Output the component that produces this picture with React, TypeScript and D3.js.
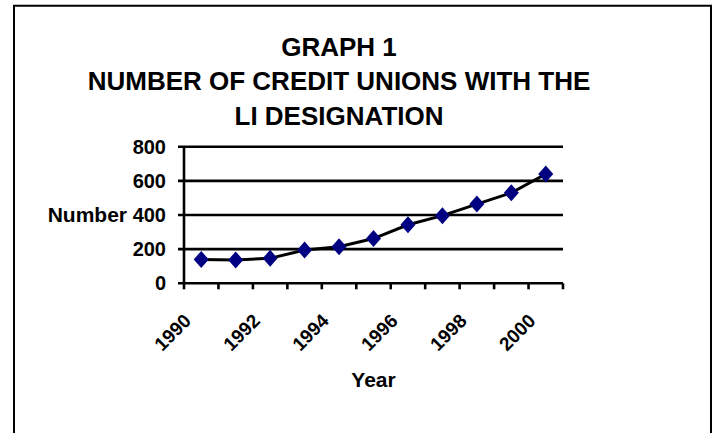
import React from "react";
import * as d3 from "d3";

const titleLines = ["GRAPH 1", "NUMBER OF CREDIT UNIONS WITH THE", "LI DESIGNATION"];
const years = ["1990", "1991", "1992", "1993", "1994", "1995", "1996", "1997", "1998", "1999", "2000"];
const values = [140, 137, 146, 195, 214, 262, 343, 396, 464, 530, 640];
const yTicks = [0, 200, 400, 600, 800];
const xTickLabels = ["1990", "1992", "1994", "1996", "1998", "2000"];
const yAxisTitle = "Number";
const xAxisTitle = "Year";

const W = 714;
const H = 433;
const FONT = "'Liberation Sans', Arial, sans-serif";

export default function App() {
  const x = d3.scaleBand<string>().domain(years).range([184, 563]).padding(0);
  const y = d3.scaleLinear().domain([0, 800]).range([283.3, 146.7]);
  const cx = (d: string) => (x(d) as number) + x.bandwidth() / 2;
  const line = d3
    .line<number>()
    .x((_, i) => cx(years[i]))
    .y((v) => y(v));
  const diamond = "M0,-8.5L7.5,0L0,8.5L-7.5,0Z";
  const [x0, x1] = x.range();
  const boundaries = d3.range(years.length + 1).map((i) => x0 + i * x.bandwidth());

  return (
    <svg
      width={W}
      height={H}
      style={{ position: "absolute", left: 0, top: 0, background: "#fff" }}
      fontFamily={FONT}
      fontWeight="bold"
    >
      <rect x={0} y={0} width={W} height={H} fill="#fff" />
      {/* frame */}
      <path d={`M14,${H}V5.8H711V${H}`} fill="none" stroke="#000" strokeWidth={2} />

      {/* title */}
      {titleLines.map((t, i) => (
        <text key={t} x={339} y={55.5 + i * 34.5} textAnchor="middle" fontSize={26} fill="#000">
          {t}
        </text>
      ))}

      {/* gridlines */}
      {yTicks.map((t) => (
        <line key={"g" + t} x1={178} x2={x1} y1={y(t)} y2={y(t)} stroke="#000" strokeWidth={2.6} />
      ))}
      {/* y axis */}
      <line x1={x0} x2={x0} y1={y(800)} y2={y(0)} stroke="#000" strokeWidth={2.6} />
      {/* x ticks */}
      {boundaries.map((b, i) => (
        <line key={"t" + i} x1={b} x2={b} y1={y(0)} y2={y(0) + 6} stroke="#000" strokeWidth={2.6} />
      ))}

      {/* y tick labels */}
      {yTicks.map((t) => (
        <text key={"yl" + t} x={166} y={y(t) + 7} textAnchor="end" fontSize={20} fill="#000">
          {t}
        </text>
      ))}
      <text x={127} y={y(400) + 7} textAnchor="end" fontSize={21} fill="#000">
        {yAxisTitle}
      </text>

      {/* x tick labels */}
      {xTickLabels.map((t) => (
        <text
          key={"xl" + t}
          transform={`translate(${cx(t) - 9},322) rotate(-45)`}
          textAnchor="end"
          fontSize={19}
          fill="#000"
        >
          {t}
        </text>
      ))}
      <text x={(x0 + x1) / 2} y={386.5} textAnchor="middle" fontSize={21} fill="#000">
        {xAxisTitle}
      </text>

      {/* data line */}
      <path d={line(values) as string} fill="none" stroke="#000" strokeWidth={3} />
      {values.map((v, i) => (
        <path key={"m" + i} d={diamond} transform={`translate(${cx(years[i])},${y(v)})`} fill="#000080" />
      ))}
    </svg>
  );
}
